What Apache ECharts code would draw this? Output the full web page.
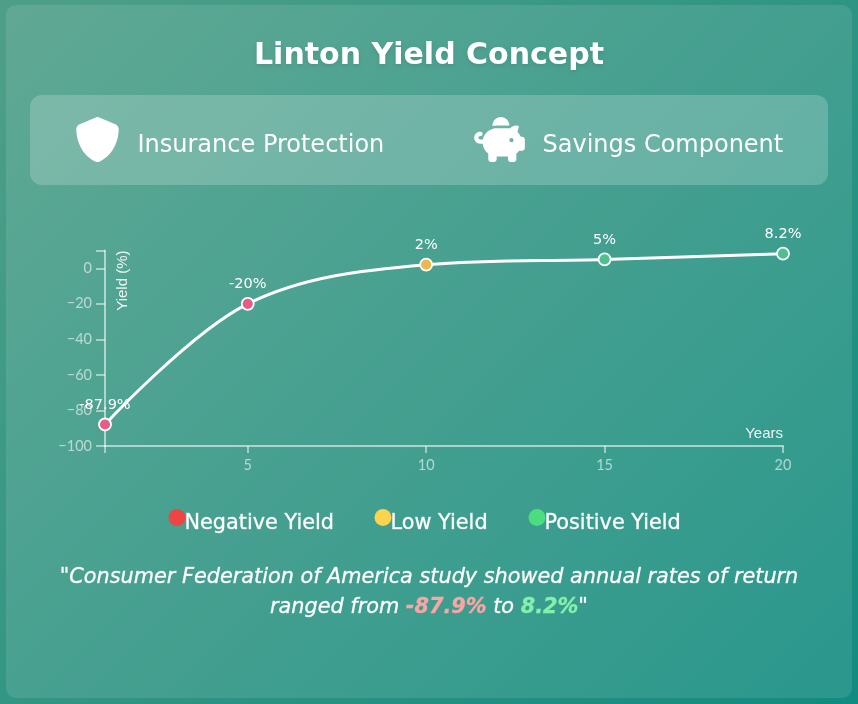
<!DOCTYPE html>
<html><head><meta charset="utf-8">
<style>html,body{margin:0;padding:0;background:#2f8f85}#c{width:858px;height:704px}</style>
<script src="https://cdn.jsdelivr.net/npm/echarts@6/dist/echarts.min.js"></script>
</head><body><div id="c"></div>
<script>
const years = [1, 5, 10, 15, 20];
const yields = [-87.9, -20, 2, 5, 8.2];
const pointColors = ['#e85d85', '#e85d85', '#edb94e', '#4fbf8d', '#4fbf8d'];
const xTicks = [1, 5, 10, 15, 20];
const xLabels = [5, 10, 15, 20];
const yLabels = [-100, -80, -60, -40, -20, 0];
const yTicks = [-100, -80, -60, -40, -20, 0, 10];
const titleText = 'Linton Yield Concept';
const legendNames = ['Negative Yield', 'Low Yield', 'Positive Yield'];
const legendColors = ['#ef4444', '#fcd34d', '#4ade80'];
const conceptNames = ['Insurance Protection', 'Savings Component'];

const FONT = '"DejaVu Sans", sans-serif';
const SHIELD = 'M256 0c4.6 0 9.2 1 13.4 2.9L457.7 82.8c22 9.3 38.4 31 38.3 57.2c-.5 99.2-41.3 280.7-213.6 363.2c-16.7 8-36.1 8-52.8 0C57.3 420.7 16.5 239.2 16 140c-.1-26.2 16.3-47.9 38.3-57.2L242.7 2.9C246.8 1 251.4 0 256 0z';
const PIG = 'M400 96l0 .7c-5.3-.4-10.6-.7-16-.7L256 96c-16.5 0-32.5 2.1-47.8 6c-.1-2-.2-4-.2-6c0-53 43-96 96-96s96 43 96 96zm-16 32c3.5 0 7 .1 10.4 .3c4.2 .3 8.4 .7 12.6 1.3C424.6 109.1 450.8 96 480 96h11.5c10.4 0 18 9.8 15.5 19.9l-13.8 55.2c15.8 14.8 28.7 32.8 37.5 52.9H544c17.7 0 32 14.3 32 32v96c0 17.7-14.3 32-32 32H512c-9.1 12.1-19.9 22.9-32 32v64c0 17.7-14.3 32-32 32H416c-17.7 0-32-14.3-32-32V448H256v32c0 17.7-14.3 32-32 32H192c-17.7 0-32-14.3-32-32V416c-34.9-26.2-58.7-66.3-63.2-112H68c-37.6 0-68-30.4-68-68s30.4-68 68-68h4c13.3 0 24 10.7 24 24s-10.7 24-24 24H68c-11 0-20 9-20 20s9 20 20 20H99.2c12.1-59.8 57.7-107.5 116.3-122.8c12.9-3.4 26.5-5.2 40.5-5.2H384zm64 136a24 24 0 1 0 -48 0 24 24 0 1 0 48 0z';

const chart = echarts.init(document.getElementById('c'), null, {renderer: 'canvas'});
const bg = new echarts.graphic.LinearGradient(38.5, -38.5, 819.5, 742.5,
  [{offset: 0, color: '#4f9f88'}, {offset: 1, color: '#128c80'}], true);

chart.setOption({
  animation: false,
  title: {
    text: titleText, left: 'center', top: 36,
    textStyle: {color: '#fff', fontFamily: FONT, fontWeight: 'bold', fontSize: 30,
      textShadowColor: 'rgba(0,0,0,0.1)', textShadowBlur: 4, textShadowOffsetY: 2}
  },
  grid: {left: 105, right: 75, top: 250.5, bottom: 258},
  xAxis: {
    type: 'value', min: 1, max: 20, splitLine: {show: false},
    name: 'Years', nameLocation: 'end', nameGap: 0,
    nameTextStyle: {color: 'rgba(255,255,255,0.9)', fontFamily: '"Liberation Sans"', fontSize: 15, align: 'right', verticalAlign: 'bottom', padding: [0, 0, 5, 0]},
    axisLine: {show: true, onZero: false, lineStyle: {color: 'rgba(255,255,255,0.55)', width: 2}},
    axisTick: {show: true, length: 7, customValues: xTicks, lineStyle: {color: 'rgba(255,255,255,0.65)', width: 1.5}},
    axisLabel: {customValues: xLabels, color: 'rgba(255,255,255,0.6)', fontFamily: 'Lato', fontSize: 14.5, margin: 12}
  },
  yAxis: {
    type: 'value', min: -100, max: 10, interval: 20, splitLine: {show: false},
    name: 'Yield (%)', nameLocation: 'end', nameGap: 0, nameRotate: 90,
    nameTextStyle: {color: 'rgba(255,255,255,0.9)', fontFamily: '"Liberation Sans"', fontSize: 15, align: 'right', verticalAlign: 'top', padding: [10, 0, 0, 0]},
    axisLine: {show: true, onZero: false, lineStyle: {color: 'rgba(255,255,255,0.55)', width: 2}},
    axisTick: {show: true, length: 9, customValues: yTicks, lineStyle: {color: 'rgba(255,255,255,0.65)', width: 1.5}},
    axisLabel: {customValues: yLabels, color: 'rgba(255,255,255,0.6)', fontFamily: 'Lato', fontSize: 14.5, margin: 13,
      formatter: v => String(v).replace('-', '\u2212')}
  },
  series: [{
    type: 'line', smooth: 0.35, z: 5,
    symbol: 'circle', symbolSize: 12,
    lineStyle: {color: '#fff', width: 3},
    itemStyle: {borderColor: '#fff', borderWidth: 1.8},
    label: {show: true, position: 'top', distance: 5, color: '#fff', fontFamily: FONT, fontSize: 14.5,
      formatter: p => p.value[1] + '%'},
    data: years.map((y, i) => ({value: [y, yields[i]], itemStyle: {color: pointColors[i]}}))
  }],
  graphic: [
    {type: 'rect', silent: true, z: -10, shape: {x: 0, y: 0, width: 858, height: 704}, style: {fill: bg}},
    {type: 'rect', silent: true, z: -9, shape: {x: 6, y: 5, width: 846, height: 693, r: 10}, style: {fill: 'rgba(255,255,255,0.1)'}},
    {type: 'rect', silent: true, z: -8, shape: {x: 30, y: 95, width: 798, height: 90, r: 12}, style: {fill: 'rgba(255,255,255,0.2)'}},
    {type: 'text', silent: true, style: {x: 137.5, y: 146, text: conceptNames[0], fill: '#fff', font: '24px ' + FONT, verticalAlign: 'middle'}},
    {type: 'text', silent: true, style: {x: 542.5, y: 146, text: conceptNames[1], fill: '#fff', font: '24px ' + FONT, verticalAlign: 'middle'}},
    ...legendNames.flatMap((n, i) => {
      const dx = [177, 383, 537][i];
      return [
        {type: 'circle', silent: true, shape: {cx: dx, cy: 517.5, r: 8.5}, style: {fill: legendColors[i]}},
        {type: 'text', silent: true, style: {x: dx + 7.5, y: 523.5, text: n, fill: '#fff', stroke: 'rgba(255,255,255,0.6)', lineWidth: 0.5, font: '500 20.8px ' + FONT, verticalAlign: 'middle'}}
      ];
    }),
    {type: 'text', silent: true, style: {
      x: 429, y: 593, align: 'center', verticalAlign: 'middle', fill: '#fff', stroke: 'rgba(255,255,255,0.6)', lineWidth: 0.5,
      font: 'italic 500 20.8px ' + FONT, lineHeight: 30,
      text: '"Consumer Federation of America study showed annual rates of return\nranged from {r|-87.9%} to {g|8.2%}"',
      rich: {
        r: {fill: '#fca5a5', stroke: '#fca5a5', lineWidth: 0.3, font: 'italic bold 20.8px ' + FONT},
        g: {fill: '#86efac', stroke: '#86efac', lineWidth: 0.3, font: 'italic bold 20.8px ' + FONT}
      }
    }}
  ]
});
const zr = chart.getZr();
zr.add(echarts.graphic.makePath(SHIELD, {silent: true, z: 10, style: {fill: '#fff'}}, {x: 74, y: 117, width: 47, height: 45}, 'center'));
zr.add(echarts.graphic.makePath(PIG, {silent: true, z: 10, style: {fill: '#fff'}}, {x: 474, y: 117, width: 51, height: 45}, 'center'));
</script></body></html>
